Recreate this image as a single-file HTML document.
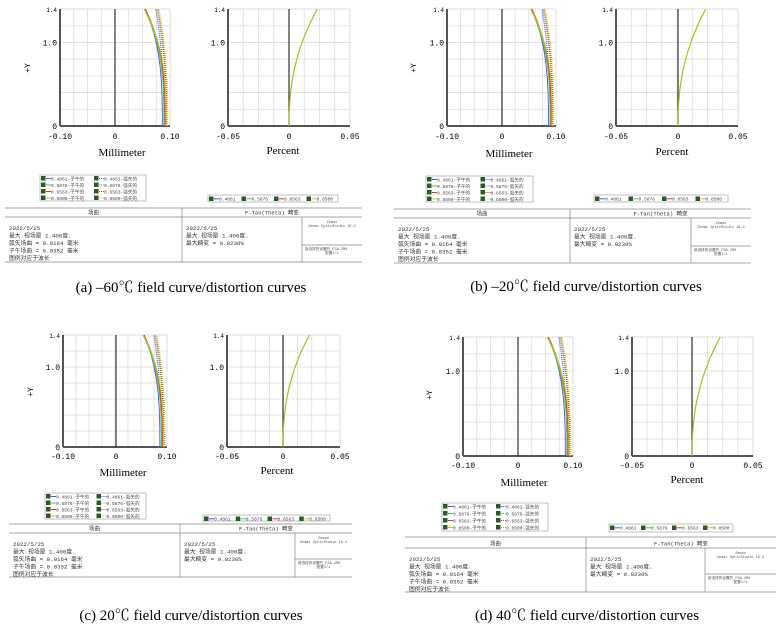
<!DOCTYPE html>
<html><head><meta charset="utf-8"><style>
html,body{margin:0;padding:0;background:#fff;}
svg{display:block}
</style></head><body>
<svg id="s" width="776" height="628" xmlns="http://www.w3.org/2000/svg" font-family="'Liberation Mono','Noto Sans CJK SC',monospace"></svg>
<script>
const S=document.getElementById('s');let h='';
const P=[
{f:[60,170,115],d:[228,350,289],y:[9,126],tl:136,mm:[122,152],pc:[283,150],py:[27,68],lg:[40,146,175,201],rg:[208,338,195,202],t:[5,362,208,217,262,182,302,245],cap:[191,292,'(a) \u201360\u2103  field curve/distortion curves']},
{f:[447,556,502],d:[616,738,678],y:[9,126],tl:136,mm:[509,153],pc:[672,151],py:[413,68],lg:[426,533,176,202],rg:[594,728,195,202],t:[394,751,209,218,263,570,691,246],cap:[586,291,'(b) \u201320\u2103  field curve/distortion curves']},
{f:[63,167,116],d:[227,340,283],y:[335,447],tl:456,mm:[123,472],pc:[277,470],py:[30,392],lg:[45,146,493,519],rg:[203,330,515,521],t:[9,352,524,533,577,180,295,559],cap:[191,620,'(c) 20\u2103  field curve/distortion curves']},
{f:[463,573,518],d:[632,753,692],y:[337,456],tl:465,mm:[524,482],pc:[687,479],py:[429,395],lg:[442,548,503,531],rg:[609,733,524,532],t:[405,776,537,548,592,586,705,574],cap:[587,620,'(d) 40\u2103  field curve/distortion curves']}
];
const C=['#4b4bff','#3ccc3c','#e03030','#c8c820'];
const T=[[0.086,0.031],[0.089,0.036],[0.091,0.036],[0.093,0.040]];
const Sg=[[0.089,0.015],[0.093,0.017],[0.094,0.016],[0.096,0.016]];
function grid(x0,x1,y0,y1){let s='';for(let i=1;i<8;i++){let x=x0+(x1-x0)*i/8;s+=`<line x1="${x}" y1="${y0}" x2="${x}" y2="${y1}" stroke="#ddd" stroke-width="0.8"/>`;}
for(let i=1;i<7;i++){let y=y1-(y1-y0)*i/7;s+=`<line x1="${x0}" y1="${y}" x2="${x1}" y2="${y}" stroke="#ddd" stroke-width="0.8"/>`;}
s+=`<line x1="${x1}" y1="${y0}" x2="${x1}" y2="${y1}" stroke="#ddd"/><line x1="${x0}" y1="${y0}" x2="${x1}" y2="${y0}" stroke="#ddd"/>`;
s+=`<line x1="${x0}" y1="${y0}" x2="${x0}" y2="${y1}" stroke="#555" stroke-width="2"/><line x1="${x0}" y1="${y1}" x2="${x1}" y2="${y1}" stroke="#555" stroke-width="2"/>`;return s;}
function ylab(x,y0,y1){return `<text x="${x-3}" y="${y0+3}" font-size="6" text-anchor="end">1.4</text><text x="${x-3}" y="${y1-(y1-y0)/1.4+3}" font-size="8" text-anchor="end">1.0</text><text x="${x-3}" y="${y1+3}" font-size="8" text-anchor="end">0</text>`;}
P.forEach(p=>{
 const [fx0,fx1,fc]=p.f,[dx0,dx1,dc]=p.d,[y0,y1]=p.y;
 h+=grid(fx0,fx1,y0,y1)+grid(dx0,dx1,y0,y1);
 h+=`<line x1="${fc}" y1="${y0}" x2="${fc}" y2="${y1}" stroke="#333" stroke-width="1.2"/><line x1="${dc}" y1="${y0}" x2="${dc}" y2="${y1}" stroke="#333" stroke-width="1.2"/>`;
 h+=ylab(fx0,y0,y1)+ylab(dx0,y0,y1);
 const fs=(fx1-fc)/0.1, ds=(dx1-dc)/0.05;
 for(let k=0;k<4;k++){
  let a='',b='';for(let i=0;i<=30;i++){let t=i/30,y=y1-(y1-y0)*t;
   a+=(i?'L':'M')+(fc+fs*(T[k][0]-T[k][1]*Math.pow(t,3))).toFixed(1)+' '+y.toFixed(1);
   b+=(i?'L':'M')+(fc+fs*(Sg[k][0]-Sg[k][1]*Math.pow(t,2.5))).toFixed(1)+' '+y.toFixed(1);}
  h+=`<path d="${a}" fill="none" stroke="${C[k]}" stroke-width="0.9"/><path d="${b}" fill="none" stroke="${C[k]}" stroke-width="1.1" stroke-dasharray="1,1"/>`;
 }
 let d='';for(let i=0;i<=30;i++){let t=i/30;d+=(i?'L':'M')+(dc+ds*0.0232*Math.pow(t,2.3)).toFixed(1)+' '+(y1-(y1-y0)*t).toFixed(1);}
 h+=`<path d="${d}" fill="none" stroke="#b8b820" stroke-width="1.2"/>`;
 const tl=p.tl+3;
 [[fx0,'-0.10'],[fc,'0'],[fx1,'0.10']].forEach(q=>h+=`<text x="${q[0]}" y="${tl}" font-size="8" text-anchor="middle">${q[1]}</text>`);
 [[dx0,'-0.05'],[dc,'0'],[dx1,'0.05']].forEach(q=>h+=`<text x="${q[0]}" y="${tl}" font-size="8" text-anchor="middle">${q[1]}</text>`);
 h+=`<text x="${p.mm[0]}" y="${p.mm[1]+4}" font-size="11" font-family="'Liberation Serif',serif" text-anchor="middle">Millimeter</text>`;
 h+=`<text x="${p.pc[0]}" y="${p.pc[1]+4}" font-size="11" font-family="'Liberation Serif',serif" text-anchor="middle">Percent</text>`;
 h+=`<text transform="translate(${p.py[0]+3},${p.py[1]}) rotate(-90)" font-size="8" text-anchor="middle">+Y</text>`;
 const [lx0,lx1,ly0,ly1]=p.lg;h+=`<rect x="${lx0}" y="${ly0}" width="${lx1-lx0}" height="${ly1-ly0}" fill="#fff" stroke="#999" stroke-width="0.6"/>`;
 const W=['0.4861','0.5876','0.6563','0.8500'],rh=(ly1-ly0)/4,hw=(lx1-lx0)/2;
 for(let r=0;r<4;r++)for(let c=0;c<2;c++){let x=lx0+1+c*hw,y=ly0+r*rh+1;
  h+=`<rect x="${x}" y="${y}" width="4.5" height="4.5" fill="#2a5a2a"/><line x1="${x+5}" y1="${y+2.5}" x2="${x+10}" y2="${y+2.5}" stroke="${C[r]}" ${c?'stroke-dasharray="1,1"':''}/><text x="${x+10}" y="${y+4.5}" font-size="4.6" fill="#444">${W[r]}-${c?'弧矢的':'子午的'}</text>`;}
 const [rx0,rx1,ry0,ry1]=p.rg;h+=`<rect x="${rx0}" y="${ry0}" width="${rx1-rx0}" height="${ry1-ry0}" fill="#fff" stroke="#999" stroke-width="0.6"/>`;
 const rw=(rx1-rx0)/4;for(let k=0;k<4;k++){let x=rx0+1+k*rw;h+=`<rect x="${x}" y="${ry0+1.5}" width="4.5" height="4.5" fill="#2a5a2a"/><line x1="${x+5}" y1="${ry0+3.8}" x2="${x+10}" y2="${ry0+3.8}" stroke="${C[k]}"/><text x="${x+10}" y="${ry0+5.6}" font-size="4.6" fill="#444">${W[k]}</text>`;}
 const [tx0,tx1,tt,th,tb,tv,ti,tih]=p.t;
 h+=`<g stroke="#888" stroke-width="0.7"><line x1="${tx0}" y1="${tt}" x2="${tx1}" y2="${tt}"/><line x1="${tx0}" y1="${th}" x2="${tx1}" y2="${th}"/><line x1="${tx0}" y1="${tb}" x2="${tx1}" y2="${tb}"/><line x1="${tv}" y1="${tt}" x2="${tv}" y2="${tb}"/><line x1="${ti}" y1="${th}" x2="${ti}" y2="${tb}"/><line x1="${ti}" y1="${tih}" x2="${tx1}" y2="${tih}"/></g>`;
 h+=`<text x="${(tx0+tv)/2}" y="${th-2.5}" font-size="5.5" fill="#333" text-anchor="middle">场曲</text><text x="${(tv+tx1)/2}" y="${th-2.5}" font-size="5.5" fill="#333" text-anchor="middle">F-Tan(Theta) 畸变</text>`;
 const L1=['2022/5/25','最大 视场是 1.400度.','弧矢场曲 = 0.0164 毫米','子午场曲 = 0.0352 毫米','图例对应于波长'];
 L1.forEach((s,i)=>h+=`<text x="${tx0+4}" y="${th+13+i*7.5}" font-size="5.8" fill="#333">${s}</text>`);
 ['2022/5/25','最大 视场是 1.400度.','最大畸变 = 0.0230%'].forEach((s,i)=>h+=`<text x="${tv+4}" y="${th+13+i*7.5}" font-size="5.8" fill="#333">${s}</text>`);
 h+=`<text x="${(ti+tx1)/2}" y="${th+6}" font-size="3.6" fill="#555" text-anchor="middle">Zemax</text><text x="${(ti+tx1)/2}" y="${th+10}" font-size="3.6" fill="#555" text-anchor="middle">Zemax OpticStudio 19.4</text><text x="${ti+3}" y="${tih+5}" font-size="3.6" fill="#555">新选择的设置的_FSA.ZMX</text><text x="${(ti+tx1)/2}" y="${tih+9}" font-size="3.6" fill="#555" text-anchor="middle">配置1/1</text>`;
 h+=`<text x="${p.cap[0]}" y="${p.cap[1]}" font-size="15" font-family="'Liberation Serif','Noto Serif CJK SC',serif" text-anchor="middle">${p.cap[2]}</text>`;
});
S.innerHTML=h;
</script>
</body></html>
